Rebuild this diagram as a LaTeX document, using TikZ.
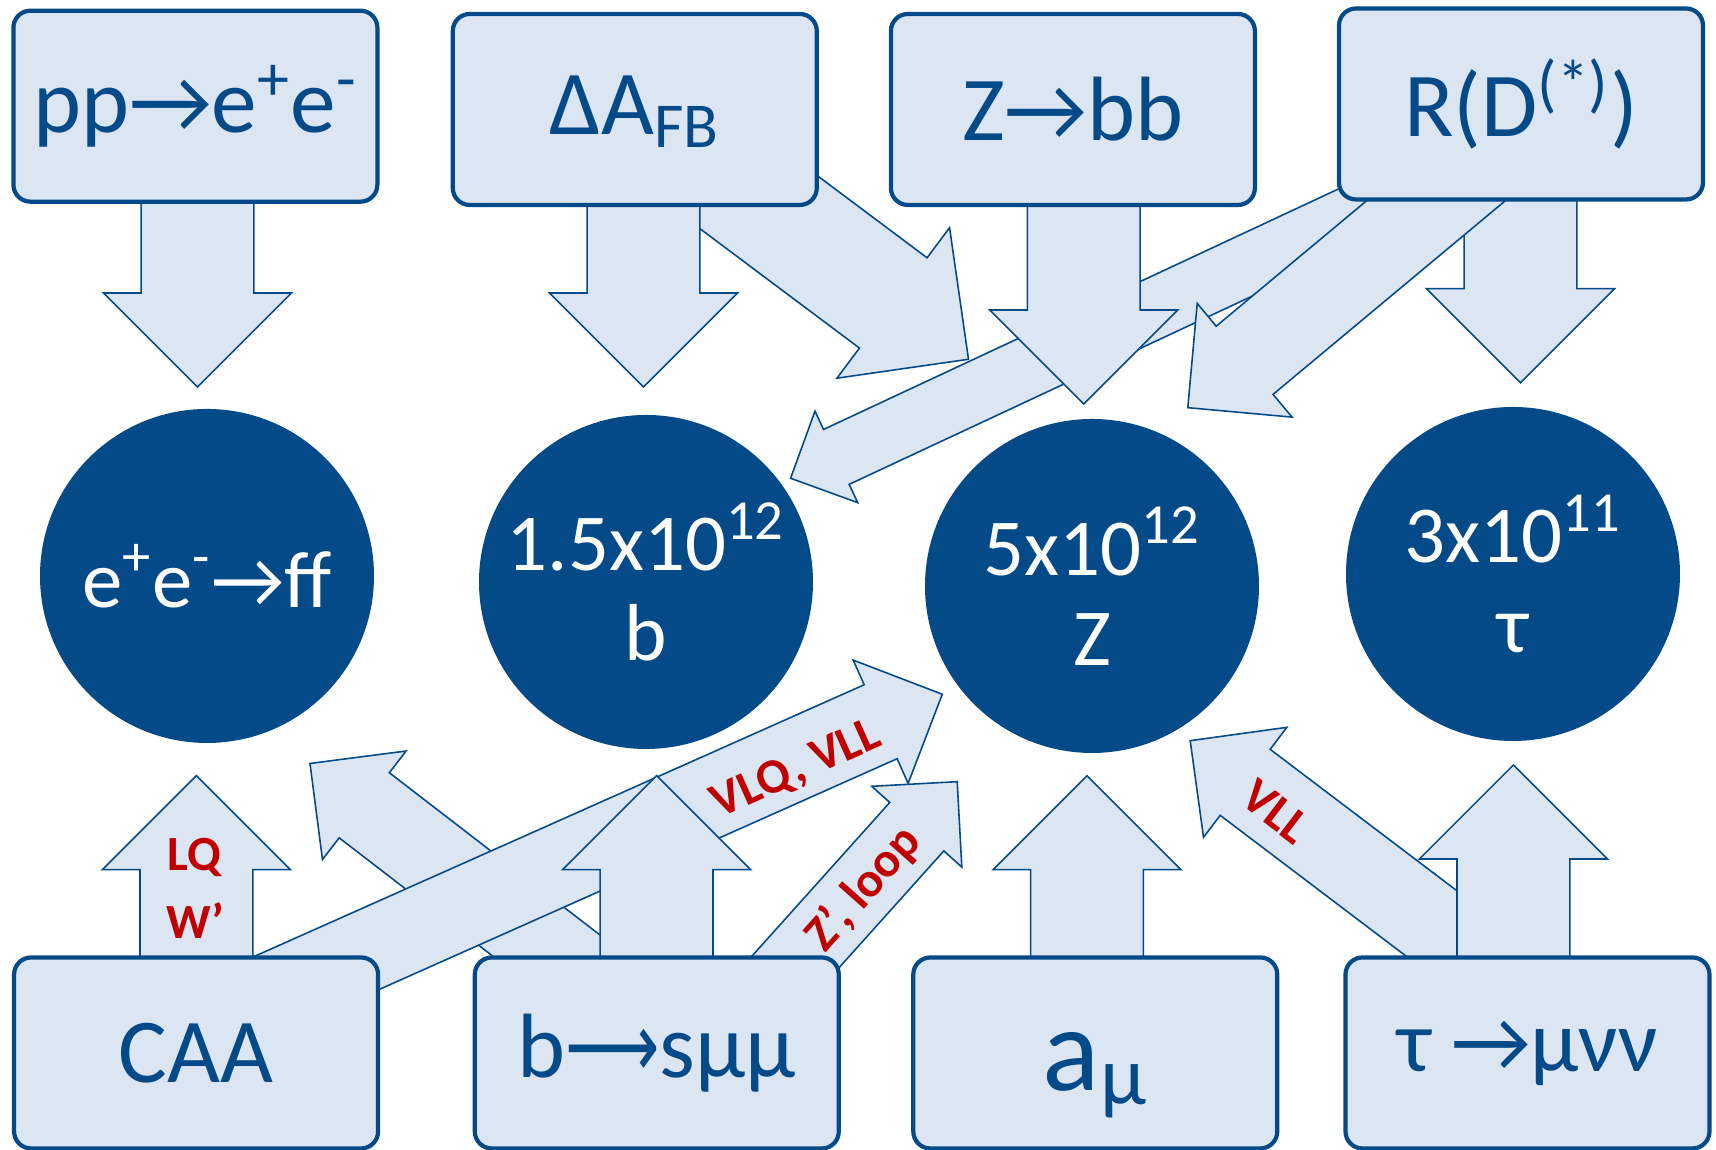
\documentclass[tikz,border=0pt]{standalone}
\usepackage{fontspec}
\setmainfont{Carlito}
\newfontfamily\arrowfont{DejaVu Sans}
\usepackage{graphicx}
\usepackage{tikz}
\usetikzlibrary{calc,backgrounds}
\definecolor{hepblue}{RGB}{4,74,136}
\definecolor{hepfill}{RGB}{220,230,242}
\definecolor{hepred}{RGB}{192,0,0}

\newcommand{\blockarrow}[3][1.88]{%
  \pgfmathsetlengthmacro{\bashaft}{0.3*#1*1cm}%
  \pgfmathsetlengthmacro{\bahead}{0.5*#1*1cm}%
  \coordinate (ba-s) at (#2);
  \coordinate (ba-t) at (#3);
  \coordinate (ba-h) at ($(ba-t)!\bahead!(ba-s)$);
  \filldraw[arrowbody] ($(ba-s)!\bashaft!90:(ba-t)$) -- ($(ba-h)!\bashaft!90:(ba-t)$)
    -- ($(ba-h)!\bahead!90:(ba-t)$) -- (ba-t) -- ($(ba-h)!\bahead!-90:(ba-t)$)
    -- ($(ba-h)!\bashaft!-90:(ba-t)$) -- ($(ba-s)!\bashaft!-90:(ba-t)$) -- cycle;
}

\begin{document}
\begin{tikzpicture}[
    boxnode/.style={draw=hepblue, line width=1.2pt, fill=hepfill, rounded corners=0.17cm,
      minimum width=3.64cm, minimum height=1.91cm, text=hepblue, font=\fontsize{26}{31}\selectfont},
    countnode/.style={circle, fill=hepblue, minimum size=3.34cm, inner sep=0pt, text=white,
      align=center, font=\fontsize{23}{25.6}\selectfont},
    arrowbody/.style={draw=hepblue, fill=hepfill, line width=0.45pt},
    modellabel/.style={text=hepred, font=\bfseries\fontsize{14}{16}\selectfont}]
  \useasboundingbox (0,0) rectangle (17.16,11.5);

  \node[boxnode] (ppee) at (1.954,10.438) {pp→e\textsuperscript{+}e\textsuperscript{-}};
  \node[boxnode, text depth=0.09cm] (dafb) at (6.348,10.405) {ΔA\textsubscript{FB}};
  \node[boxnode] (zbb) at (10.729,10.405) {Z→bb};
  \node[boxnode] (rd) at (15.21,10.46) {R(D\textsuperscript{(*)})};
  \node[boxnode] (caa) at (1.961,0.97) {CAA};
  \node[boxnode] (bsmumu) at (6.568,0.97) {b\scalebox{0.72}[1]{\arrowfont ⟶}sμμ};
  \node[boxnode, font=\fontsize{34}{40}\selectfont, text height=0.86cm, text depth=0.1cm] (amu) at (10.953,0.97) {a\textsubscript{μ}};
  \node[boxnode, font=\fontsize{25}{30}\selectfont] (taumu) at (15.275,0.97) {τ →μνν};

  \node[countnode] (eecirc) at (2.07,5.74) {e\textsuperscript{+}e\textsuperscript{-}→ff};
  \node[countnode] (bcirc) at (6.46,5.68) {1.5x10\textsuperscript{12}\\b};
  \node[countnode] (zcirc) at (10.92,5.64) {5x10\textsuperscript{12}\\Z};
  \node[countnode] (taucirc) at (15.13,5.76) {3x10\textsuperscript{11}\\τ};

  \coordinate (ppee-ee) at (1.975,7.63);
  \coordinate (dafb-b) at (6.435,7.63);
  \coordinate (dafb-z) at (9.685,7.907);
  \coordinate (zbb-z) at (10.838,7.46);
  \coordinate (rd-tau) at (15.205,7.673);
  \coordinate (rd-b) at (7.906,6.717);
  \coordinate (rd-z) at (11.878,7.423);
  \coordinate (caa-ee) at (1.964,3.743);
  \coordinate (caa-z) at (9.423,4.557);
  \coordinate (bsmumu-ee) at (3.10,3.865);
  \coordinate (bsmumu-b) at (6.566,3.743);
  \coordinate (bsmumu-z) at (9.572,3.683);
  \coordinate (amu-z) at (10.87,3.743);
  \coordinate (taumu-z) at (11.902,4.093);
  \coordinate (taumu-tau) at (15.134,3.85);

  \begin{scope}[on background layer]
    \blockarrow{dafb.center}{dafb-z}
    \blockarrow[1.01]{$(rd.center)+(0.71,0)$}{rd-b}
    \foreach \b/\t in {ppee/ppee-ee, dafb/dafb-b, zbb/zbb-z, rd/rd-tau}
      {\blockarrow{\t |- \b}{\t}}
    \blockarrow[1.48]{$(rd.center)+(0.31,0)$}{rd-z}
    \blockarrow[1.37]{$(bsmumu.center)+(0.29,0)$}{bsmumu-ee}
    \blockarrow[1.35]{$(caa.center)+(-0.59,0)$}{caa-z}
    \blockarrow[1.21]{$(bsmumu.center)+(0.57,0)$}{bsmumu-z}
    \blockarrow[1.38]{$(taumu.center)+(0.75,0)$}{taumu-z}
    \foreach \b/\t in {caa/caa-ee, bsmumu/bsmumu-b, amu/amu-z, taumu/taumu-tau}
      {\blockarrow{\t |- \b}{\t}}
  \end{scope}

  \node[modellabel] (lq) at (1.94,2.93) {LQ};
  \node[modellabel] (wprime) at (1.95,2.29) {W’};
  \node[modellabel, rotate=24.1] (vlqvll) at (7.967,3.80) {VLQ, VLL};
  \node[modellabel, rotate=48.4] (zloop) at (8.636,2.61) {Z’, loop};
  \node[modellabel, rotate=-37.3] (vll) at (12.76,3.383) {VLL};
\end{tikzpicture}
\end{document}
